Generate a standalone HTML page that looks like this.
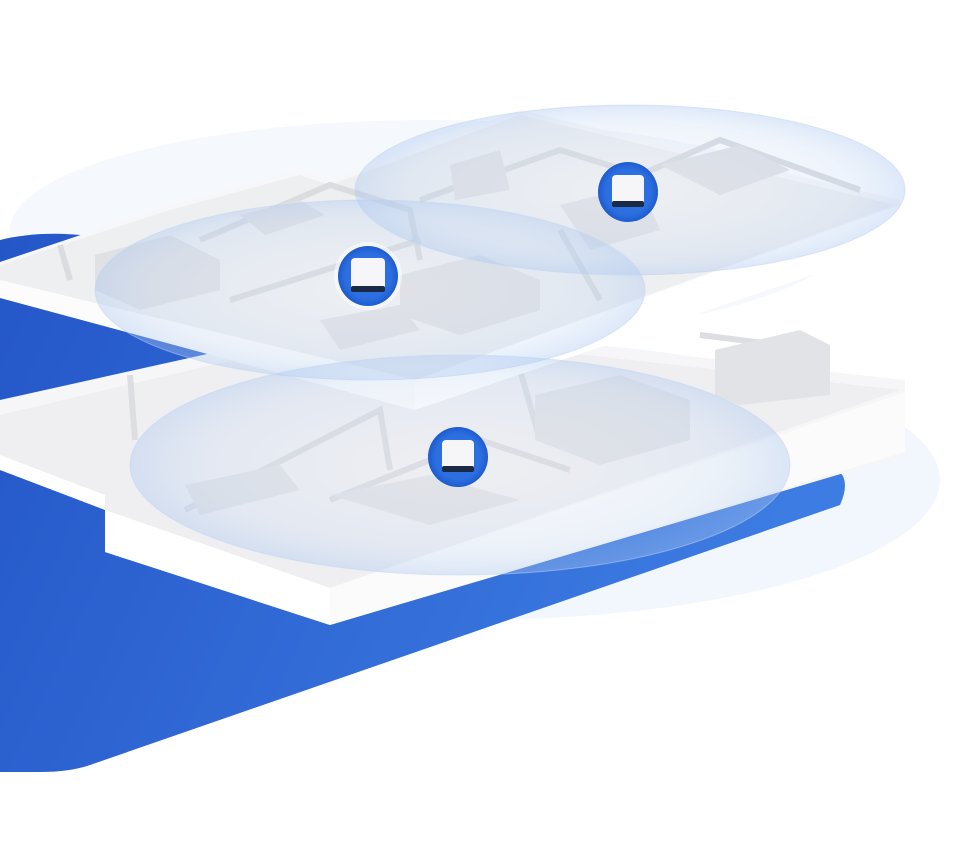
<!DOCTYPE html>
<html><head><meta charset="utf-8"><style>
html,body{margin:0;padding:0;background:#fff;width:964px;height:852px;overflow:hidden}
</style></head><body>
<svg width="964" height="852" viewBox="0 0 964 852" xmlns="http://www.w3.org/2000/svg">
<defs>
<linearGradient id="bl" x1="0" y1="0" x2="1" y2="0.3">
<stop offset="0" stop-color="#2456c8"/><stop offset="1" stop-color="#3d7ce2"/></linearGradient>
<radialGradient id="el" cx="0.5" cy="0.5" r="0.5">
<stop offset="0" stop-color="#d6e4f8" stop-opacity="0.05"/><stop offset="0.8" stop-color="#bcd3f2" stop-opacity="0.25"/><stop offset="1" stop-color="#aac6ef" stop-opacity="0.4"/></radialGradient>
<radialGradient id="dev" cx="0.5" cy="0.5" r="0.5">
<stop offset="0.75" stop-color="#2c6fe0"/><stop offset="1" stop-color="#1e5bd0"/></radialGradient>
</defs>
<ellipse cx="470" cy="480" rx="470" ry="140" fill="#edf3fc" opacity="0.7"/>
<ellipse cx="430" cy="230" rx="420" ry="110" fill="#f1f5fc" opacity="0.7"/>
<path d="M0,240 Q40,230 90,236 L835,468 Q852,478 840,505 L90,765 Q70,772 40,772 L0,772 Z" fill="url(#bl)"/>
<!-- lower floor -->
<path d="M0,400 L360,320 L905,380 L905,455 L330,625 L105,552 L105,500 L0,460 Z" fill="#f6f6f8"/>
<path d="M0,415 L360,330 L900,390 L330,588 L105,510 L0,455 Z" fill="#efeff2"/>
<path d="M105,510 L330,588 L330,625 L105,552 Z" fill="#ffffff"/>
<path d="M330,588 L905,392 L905,452 L330,625 Z" fill="#fbfbfb"/>
<path d="M0,455 L105,495 L105,510 L0,470 Z" fill="#fff"/>
<g stroke="#dcdee2" stroke-width="6" fill="none">
<path d="M130,375 L135,440"/><path d="M185,510 L380,410 L390,470"/><path d="M520,370 L540,440"/>
<path d="M700,335 L820,350"/><path d="M330,500 L480,440 L570,470"/>
</g>
<g fill="#e2e3e6">
<path d="M535,395 L620,375 L690,400 L690,440 L600,465 L535,440 Z"/>
<path d="M715,350 L800,330 L830,345 L830,395 L740,405 L715,395 Z"/>
<path d="M330,495 L430,475 L520,500 L430,525 Z"/>
<path d="M185,485 L280,465 L300,490 L200,515 Z"/>
</g>
<!-- upper floor -->
<path d="M0,262 L170,205 L300,170 L330,180 L520,110 L900,200 L900,245 L415,410 L0,295 Z" fill="#f7f7f9"/>
<path d="M0,265 L170,210 L300,175 L330,185 L520,115 L895,205 L415,380 L0,280 Z" fill="#eeeff1"/>
<path d="M415,380 L900,205 L900,245 L415,410 Z" fill="#ffffff"/>
<path d="M0,280 L415,380 L415,410 L0,298 Z" fill="#fcfcfc"/>
<g stroke="#dadce0" stroke-width="6" fill="none">
<path d="M200,240 L330,185 L410,210 L420,260"/><path d="M420,200 L560,150 L640,175"/>
<path d="M640,175 L720,140 L860,190"/><path d="M230,300 L420,240"/><path d="M600,300 L560,230"/>
<path d="M60,245 L70,280"/>
</g>
<g fill="#e0e1e5">
<path d="M95,255 L170,235 L220,260 L220,290 L140,310 L95,290 Z"/>
<path d="M240,215 L300,200 L325,215 L265,235 Z"/>
<path d="M400,275 L480,255 L540,280 L540,310 L460,335 L400,315 Z"/>
<path d="M560,205 L640,185 L660,230 L590,250 Z"/>
<path d="M660,165 L740,145 L790,170 L720,195 Z"/>
<path d="M450,165 L500,150 L510,190 L455,200 Z"/>
<path d="M320,320 L400,305 L420,330 L340,350 Z"/>
</g>
<ellipse cx="370" cy="290" rx="275" ry="90" fill="url(#el)" stroke="#c2d6f3" stroke-opacity="0.5"/>
<ellipse cx="630" cy="190" rx="275" ry="85" fill="url(#el)" stroke="#c2d6f3" stroke-opacity="0.5"/>
<ellipse cx="460" cy="465" rx="330" ry="110" fill="url(#el)" stroke="#c2d6f3" stroke-opacity="0.5"/>
<circle cx="368" cy="276" r="34" fill="#fff" opacity="0.5"/>
<circle cx="368" cy="276" r="30" fill="url(#dev)"/>
<rect x="351" y="258" width="34" height="34" rx="4" fill="#f6f6f8"/>
<rect x="351" y="286" width="34" height="6" rx="2" fill="#1a2a44"/>
<circle cx="628" cy="192" r="30" fill="url(#dev)"/>
<rect x="612" y="175" width="32" height="32" rx="4" fill="#f6f6f8"/>
<rect x="612" y="201" width="32" height="6" rx="2" fill="#1a2a44"/>
<circle cx="458" cy="457" r="30" fill="url(#dev)"/>
<rect x="442" y="440" width="32" height="32" rx="4" fill="#f6f6f8"/>
<rect x="442" y="466" width="32" height="6" rx="2" fill="#1a2a44"/>
</svg>
</body></html>
